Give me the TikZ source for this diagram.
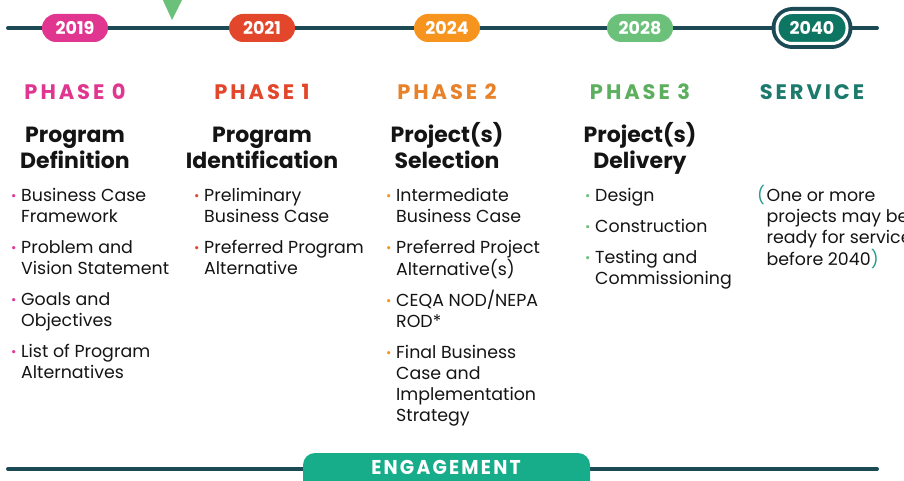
\documentclass[tikz,border=0pt]{standalone}
\usepackage{fontspec}
\setmainfont{Poppins}
\newfontfamily\condfont[FakeStretch=0.94]{Poppins}
\usetikzlibrary{positioning}

\definecolor{lineteal}{HTML}{1B4A55}
\definecolor{pinkc}{HTML}{E0368F}
\definecolor{redc}{HTML}{E2472B}
\definecolor{orangec}{HTML}{F7941D}
\definecolor{orangetxt}{HTML}{E8822A}
\definecolor{greenc}{HTML}{6CC17A}
\definecolor{greentxt}{HTML}{5BAF5E}
\definecolor{svcteal}{HTML}{0E7563}
\definecolor{svctxt}{HTML}{1B7A6B}
\definecolor{parenc}{HTML}{2A9D8F}
\definecolor{engc}{HTML}{17AD8A}
\definecolor{inkc}{HTML}{141414}

\newcommand{\dotc}[1]{\makebox[10pt][l]{\textcolor{#1}{\fontsize{13}{13}\selectfont\raisebox{0.1ex}{\textbullet}}}}

\tikzset{
  tline/.style={lineteal, line width=4pt, line cap=round},
  year/.style={rounded corners=14pt, minimum width=66pt, minimum height=28pt, inner sep=0pt,
    text=white, font=\fontsize{17.5}{17.5}\selectfont\bfseries},
  phase/.style={inner sep=0pt, font=\fontsize{21}{21}\selectfont\bfseries\addfontfeatures{LetterSpace=14}},
  title/.style={inner sep=0pt, text=inkc, anchor=base, font=\fontsize{22}{26}\selectfont\bfseries},
  items/.style={inner sep=0pt, text=inkc, anchor=base west, font=\fontsize{17.4}{21}\selectfont},
}

\begin{document}
\begin{tikzpicture}[x=1pt,y=-1pt,node distance=64pt,on grid]
   \useasboundingbox (0,0) rectangle (904,481);
   \clip (0,0) rectangle (904,481);

   % timeline
   \coordinate (tl) at (8,28);
   \coordinate (tr) at (877,28);
   \draw[tline] (tl) -- (tr);
   \fill[greenc] (161,-4) -- (184,-4) -- (172,20) -- cycle;

   \node[year, fill=pinkc] (y2019) at (75,28) {2019};
   \node[year, fill=redc, right=187pt of y2019] (y2021) {2021};
   \node[year, fill=orangec, right=185pt of y2021] (y2024) {2024};
   \node[year, fill=greenc, right=193pt of y2024] (y2028) {2028};
   \node[year, fill=lineteal, minimum width=81pt, minimum height=42pt, rounded corners=21pt,
         right=172pt of y2028] (ring) {};
   \node[year, fill=svcteal, draw=white, line width=3pt, minimum width=70pt, minimum height=31pt,
         rounded corners=15pt] (y2040) at (ring) {2040};

   % phases
   \node[phase, text=pinkc, below=of y2019] (ph0) {PHASE 0};
   \node[phase, text=redc, below=of y2021] (ph1) {PHASE 1};
   \node[phase, text=orangetxt, below=of y2024] (ph2) {PHASE 2};
   \node[phase, text=greentxt, below=of y2028] (ph3) {PHASE 3};
   \node[phase, text=svctxt, below=of ring] (svc) {SERVICE};

   \node[title] (ti0) at (75,143) {\begin{tabular}[t]{@{}c@{}}Program\\Definition\end{tabular}};
   \node[title] (ti1) at (262,143) {\begin{tabular}[t]{@{}c@{}}Program\\Identification\end{tabular}};
   \node[title] (ti2) at (447,143) {\begin{tabular}[t]{@{}c@{}}Project(s)\\Selection\end{tabular}};
   \node[title] (ti3) at (640,143) {\begin{tabular}[t]{@{}c@{}}Project(s)\\Delivery\end{tabular}};

   % lists
   \node[items] (li0) at (11,201) {\begin{tabular}[t]{@{}l@{}l@{}}
      \dotc{pinkc} & Business Case\\ & Framework\\[10pt]
      \dotc{pinkc} & Problem and\\ & Vision Statement\\[10pt]
      \dotc{pinkc} & Goals and\\ & Objectives\\[10pt]
      \dotc{pinkc} & List of Program\\ & Alternatives
   \end{tabular}};
   \node[items] (li1) at (194,201) {\begin{tabular}[t]{@{}l@{}l@{}}
      \dotc{redc} & Preliminary\\ & Business Case\\[10pt]
      \dotc{redc} & Preferred Program\\ & Alternative
   \end{tabular}};
   \node[items] (li2) at (386,201) {\begin{tabular}[t]{@{}l@{}l@{}}
      \dotc{orangec} & Intermediate\\ & Business Case\\[10pt]
      \dotc{orangec} & Preferred Project\\ & Alternative(s)\\[8pt]
      \dotc{orangec} & CEQA NOD/NEPA\\ & ROD*\\[10pt]
      \dotc{orangec} & Final Business\\ & Case and\\ & Implementation\\ & Strategy
   \end{tabular}};
   \node[items] (li3) at (585,201) {\begin{tabular}[t]{@{}l@{}l@{}}
      \dotc{greenc} & Design\\[10pt]
      \dotc{greenc} & Construction\\[10pt]
      \dotc{greenc} & Testing and\\ & Commissioning
   \end{tabular}};
   \node[items] (note) at (757,201) {\begin{tabular}[t]{@{}l@{\hspace{1.5pt}}l@{}}
      \textcolor{parenc}{(} & One or more\\ & projects may be\\ & ready for service\\
      & before 2040\textcolor{parenc}{)}
   \end{tabular}};

   % engagement
   \coordinate (bl) at (8,469);
   \coordinate (br) at (877,469);
   \draw[tline] (bl) -- (br);
   \fill[engc, rounded corners=12pt] (303,453) rectangle (590,500);
   \node[inner sep=0pt, anchor=base, text=white,
         font=\fontsize{20}{20}\condfont\bfseries\addfontfeatures{LetterSpace=11}] (eng) at (446,474.5) {ENGAGEMENT};
\end{tikzpicture}
\end{document}
